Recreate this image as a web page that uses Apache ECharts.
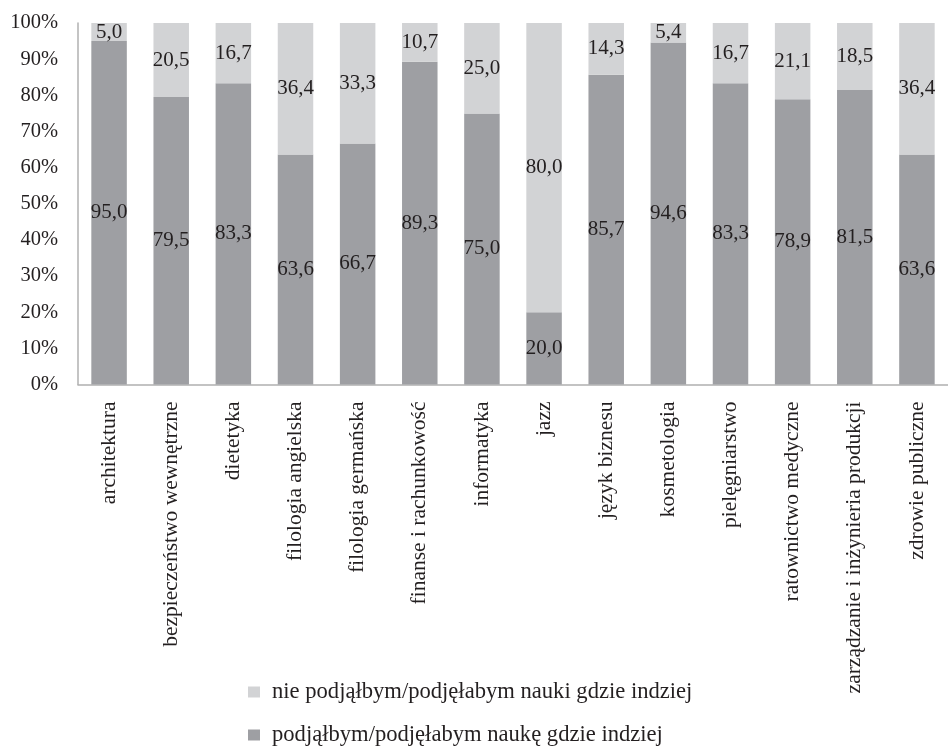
<!DOCTYPE html>
<html>
<head>
<meta charset="utf-8">
<script src="https://cdn.jsdelivr.net/npm/echarts@6/dist/echarts.min.js"></script>
<style>
  html, body { margin: 0; padding: 0; background: #ffffff; }
  #chart { width: 948px; height: 746px; }
</style>
</head>
<body>
<div id="chart"></div>
<script>
// Kierunki studiów
const categories = [
  'architektura',
  'bezpieczeństwo wewnętrzne',
  'dietetyka',
  'filologia angielska',
  'filologia germańska',
  'finanse i rachunkowość',
  'informatyka',
  'jazz',
  'język biznesu',
  'kosmetologia',
  'pielęgniarstwo',
  'ratownictwo medyczne',
  'zarządzanie i inżynieria produkcji',
  'zdrowie publiczne'
];

// Odsetek odpowiedzi (%)
const wouldStudyElsewhere = [95.0, 79.5, 83.3, 63.6, 66.7, 89.3, 75.0, 20.0, 85.7, 94.6, 83.3, 78.9, 81.5, 63.6];
const wouldNotStudyElsewhere = [5.0, 20.5, 16.7, 36.4, 33.3, 10.7, 25.0, 80.0, 14.3, 5.4, 16.7, 21.1, 18.5, 36.4];

const seriesNames = [
  'podjąłbym/podjęłabym naukę gdzie indziej',
  'nie podjąłbym/podjęłabym nauki gdzie indziej'
];

const yTicks = [0, 10, 20, 30, 40, 50, 60, 70, 80, 90, 100];

const FONT = '"Liberation Serif", "Times New Roman", serif';
const TEXT = '#231f20';
const DARK = '#9e9fa3';
const LIGHT = '#d2d3d5';
const AXIS = '#b0b0b0';

const fmt = (v) => v.toFixed(1).replace('.', ',');

const chart = echarts.init(document.getElementById('chart'), null, { renderer: 'canvas' });

const labelStyle = {
  show: true,
  position: 'inside',
  color: TEXT,
  fontFamily: FONT,
  fontSize: 21,
  formatter: (p) => fmt(p.value)
};

// one legend block per series, stacked vertically under the axis labels
const legendBlock = (name, top) => ({
  orient: 'vertical',
  left: 248,
  top: top,
  padding: 0,
  itemWidth: 12,
  itemHeight: 11,
  icon: 'rect',
  data: [name],
  textStyle: { color: TEXT, fontFamily: FONT, fontSize: 22.6, padding: [0, 0, 0, 7] }
});

chart.setOption({
  animation: false,
  backgroundColor: '#ffffff',
  grid: { left: 78, top: 23, bottom: 361.5, right: -11.5, containLabel: false },
  legend: [
    legendBlock(seriesNames[1], 680.5),
    legendBlock(seriesNames[0], 723.5)
  ],
  xAxis: {
    type: 'category',
    data: categories,
    axisLine: { show: true, lineStyle: { color: AXIS, width: 1.5 } },
    axisTick: { show: false },
    axisLabel: {
      rotate: 90,
      interval: 0,
      margin: 17,
      color: TEXT,
      fontFamily: FONT,
      fontSize: 21.5
    }
  },
  yAxis: {
    type: 'value',
    min: yTicks[0],
    max: yTicks[yTicks.length - 1],
    interval: yTicks[1] - yTicks[0],
    axisLine: { show: true, lineStyle: { color: AXIS, width: 1.5 } },
    axisTick: { show: false },
    splitLine: { show: false },
    axisLabel: {
      margin: 20,
      color: TEXT,
      fontFamily: FONT,
      fontSize: 20.5,
      formatter: (v) => v + '%'
    }
  },
  series: [
    {
      name: seriesNames[0],
      type: 'bar',
      stack: 'total',
      barWidth: 35.5,
      data: wouldStudyElsewhere,
      itemStyle: { color: DARK },
      label: labelStyle
    },
    {
      name: seriesNames[1],
      type: 'bar',
      stack: 'total',
      barWidth: 35.5,
      data: wouldNotStudyElsewhere,
      itemStyle: { color: LIGHT },
      label: labelStyle
    }
  ]
});
</script>
</body>
</html>
